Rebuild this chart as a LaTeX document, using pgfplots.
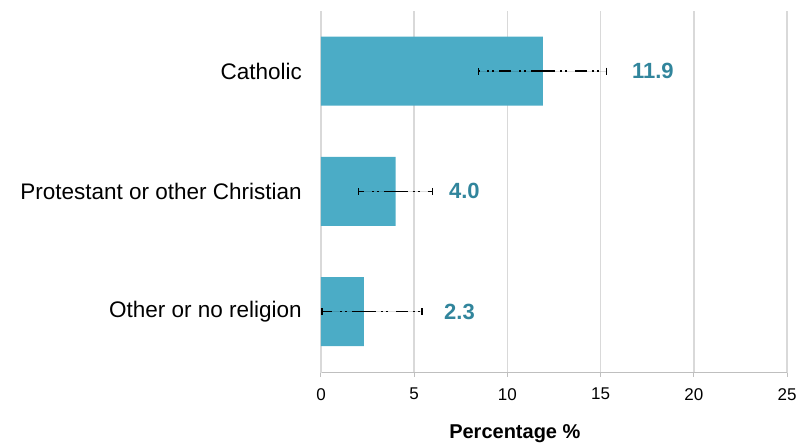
\documentclass[border=0pt]{standalone}
\usepackage{pgfplots}
\pgfplotsset{compat=1.18}
\usepackage{pgfplotstable}
\usepackage{fontspec}
\setmainfont{Liberation Sans}
\usetikzlibrary{calc}

\definecolor{barcol}{HTML}{4BACC6}
\definecolor{valcol}{HTML}{31859C}
\definecolor{gridcol}{HTML}{D9D9D9}
\definecolor{axcol}{HTML}{BFBFBF}

% y position, value, lower and upper error
\pgfplotstableread{
y  v     em    ep
2  11.9  3.45  3.40
1  4.0   1.98  1.99
0  2.3   2.25  3.12
}\religion

\begin{document}
\begin{tikzpicture}
\begin{axis}[
  name=ax,
  scale only axis,
  width=466pt, height=362pt,
  xmin=0, xmax=25,
  ymin=-0.51, ymax=2.5,
  xtick={0,5,...,25},
  ytick={0,1,2},
  yticklabels={Other or no religion, Protestant or other Christian, Catholic},
  axis x line*=bottom,
  axis y line*=left,
  x axis line style={draw=axcol, line width=1pt, -},
  y axis line style={draw=gridcol, line width=1.5pt, -},
  xmajorgrids,
  grid style={draw=gridcol, line width=1.5pt},
  xtick align=outside,
  major tick length=4pt,
  xtick style={draw=axcol, line width=1pt},
  ytick style={draw=none},
  /pgf/number format/assume math mode=true,
  xticklabel style={font=\fontsize{17}{20}\selectfont, inner sep=0pt, yshift=-11pt},
  yticklabel style={font=\fontsize{22.5}{27}\selectfont, inner sep=0pt, anchor=east, xshift=-19pt},
  xlabel={Percentage \%},
  xlabel style={font=\bfseries\fontsize{20}{24}\selectfont,
    at={(axis description cs:0.416,0)}, anchor=base, yshift=-65pt},
  clip=false,
]
\addplot[xbar, bar width=69pt, fill=barcol, draw=none,
  error bars/.cd, x dir=both, x explicit,
  error bar style={black, line width=1.3pt,
    dash pattern=on 12pt off 5pt on 2pt off 3pt on 2pt off 8pt},
  error mark options={black, solid, rotate=90, line width=1.3pt, mark size=3.5pt}]
  table[x=v, y=y, x error minus=em, x error plus=ep]{\religion};

\node[anchor=west, inner sep=0pt, text=valcol,
  font=\bfseries\fontsize{22}{26}\selectfont] at (axis cs:16.68,2) {11.9};
\node[anchor=west, inner sep=0pt, text=valcol,
  font=\bfseries\fontsize{22}{26}\selectfont] at (axis cs:6.86,1) {4.0};
\node[anchor=west, inner sep=0pt, text=valcol,
  font=\bfseries\fontsize{22}{26}\selectfont] at (axis cs:6.6,0) {2.3};
\end{axis}
\pgfresetboundingbox
\useasboundingbox ($(ax.south west)+(-321pt,-70pt)$) rectangle ($(ax.north east)+(12pt,11pt)$);
\end{tikzpicture}
\end{document}
